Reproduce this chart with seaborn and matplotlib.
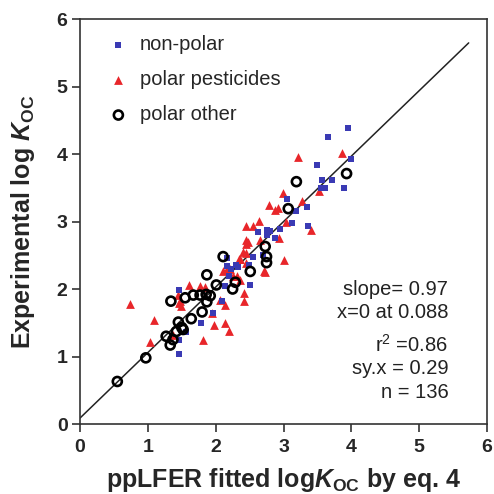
import matplotlib
matplotlib.use("Agg")
import matplotlib.pyplot as plt
import seaborn as sns
import numpy as np
import pandas as pd

# ---------------- data ----------------
nonpolar_x = [3.95, 3.65, 3.50, 3.99, 3.57, 3.72, 3.61, 3.56, 3.89, 3.05, 3.34, 3.19, 3.12, 3.36,
              2.95, 2.80, 2.75, 2.63, 2.88, 2.70, 2.55, 2.49, 2.51, 2.33, 2.30, 2.17, 2.16, 2.23,
              2.14, 2.10, 2.20, 1.79, 1.57, 1.46, 1.46, 1.46, 1.96, 2.75]
nonpolar_y = [4.38, 4.25, 3.83, 3.92, 3.62, 3.62, 3.50, 3.50, 3.49, 3.34, 3.21, 3.15, 2.98, 2.93,
              2.89, 2.86, 2.80, 2.84, 2.75, 2.50, 2.48, 2.36, 2.06, 2.33, 2.36, 2.34, 2.46, 2.30,
              2.05, 1.82, 2.19, 1.49, 1.37, 1.99, 1.25, 1.04, 1.64, 2.87]

pest_x = [0.74, 1.09, 1.03, 1.37, 1.47, 1.49, 1.46, 1.61, 1.77, 1.85, 1.82, 1.95, 1.98, 2.06,
          2.14, 2.14, 2.20, 2.11, 2.17, 2.21, 2.26, 2.32, 2.36, 2.34, 2.40, 2.36, 2.45, 2.44,
          2.48, 2.44, 2.55, 2.64, 2.65, 2.42, 2.42, 2.71, 2.78, 2.87, 2.92, 2.94, 3.00, 2.99,
          3.04, 3.21, 3.28, 3.40, 3.52, 3.86, 2.45, 2.72, 2.45, 1.45]
pest_y = [1.78, 1.54, 1.21, 1.32, 1.82, 1.75, 1.79, 2.06, 2.05, 2.03, 1.25, 1.64, 1.47, 1.84,
          1.76, 1.49, 1.38, 2.26, 2.30, 2.29, 2.19, 2.20, 2.14, 2.44, 2.55, 2.44, 2.53, 2.73,
          2.69, 2.94, 2.94, 3.01, 2.72, 1.94, 1.82, 2.26, 3.25, 3.17, 3.20, 2.75, 2.43, 3.42,
          3.00, 3.96, 3.30, 2.88, 3.45, 4.01, 2.38, 2.25, 2.66, 1.91]

other_x = [0.55, 0.97, 1.27, 1.33, 1.37, 1.34, 1.42, 1.45, 1.50, 1.52, 1.55, 1.64, 1.67, 1.77,
           1.80, 1.86, 1.87, 1.87, 1.92, 2.01, 2.11, 2.25, 2.29, 2.51, 2.73, 2.75, 2.75, 3.07,
           3.19, 3.93]
other_y = [0.63, 0.98, 1.30, 1.17, 1.25, 1.82, 1.37, 1.51, 1.43, 1.40, 1.87, 1.56, 1.91, 1.91,
           1.66, 1.92, 1.81, 2.21, 1.90, 2.06, 2.48, 2.00, 2.10, 2.26, 2.63, 2.48, 2.39, 3.19,
           3.59, 3.71]

fit_slope = 0.97
fit_intercept = 0.088
fit_x = [0.0, 5.73]

labels = ["non-polar", "polar pesticides", "polar other"]
stats_lines = ["slope= 0.97", "x=0 at 0.088", "$\\mathregular{r^2}$ =0.86", "sy.x = 0.29", "n = 136"]
ticks = [0, 1, 2, 3, 4, 5, 6]

# ---------------- style ----------------
sns.set_style("white")
plt.rcParams["font.family"] = ["Liberation Sans", "DejaVu Sans"]
plt.rcParams["mathtext.fontset"] = "custom"
plt.rcParams["mathtext.rm"] = "Liberation Sans:bold"
plt.rcParams["mathtext.it"] = "Liberation Sans:italic:bold"
plt.rcParams["mathtext.bf"] = "Liberation Sans:bold"

fig = plt.figure(figsize=(4.94, 4.94), dpi=100)
ax = fig.add_axes([80 / 494, 1 - 424 / 494, 407 / 494, 405 / 494])

df_np = pd.DataFrame({"x": nonpolar_x, "y": nonpolar_y})
df_pp = pd.DataFrame({"x": pest_x, "y": pest_y})
df_po = pd.DataFrame({"x": other_x, "y": other_y})

fy = [fit_intercept + fit_slope * v for v in fit_x]
sns.lineplot(x=fit_x, y=fy, ax=ax, color="#222222", lw=1.1, zorder=1)

sns.scatterplot(data=df_np, x="x", y="y", ax=ax, marker="s", color="#3a3ab4",
                s=22, linewidth=0, zorder=3, label=labels[0])
sns.scatterplot(data=df_pp, x="x", y="y", ax=ax, marker="^", color="#e8262a",
                s=40, linewidth=0, zorder=2, label=labels[1])
sns.scatterplot(data=df_po, x="x", y="y", ax=ax, marker="o", facecolor="none",
                edgecolor="black", s=42, linewidth=1.9, zorder=4, label=labels[2])

ax.set_xlim(0, 6)
ax.set_ylim(0, 6)
ax.set_xticks(ticks)
ax.set_yticks(ticks)
ax.set_xticklabels([str(t) for t in ticks], fontsize=14, fontweight="bold")
ax.set_yticklabels([str(t) for t in ticks], fontsize=14, fontweight="bold")
ax.tick_params(axis="x", which="major", direction="out", length=6, width=1.2,
               color="#333333", bottom=True, top=False, pad=5)
ax.tick_params(axis="y", which="major", direction="out", length=6, width=1.2,
               color="#333333", left=True, right=False, pad=3)

for sp in ax.spines.values():
    sp.set_visible(True)
    sp.set_color("#333333")
    sp.set_linewidth(1.2)

ax.set_xlabel("ppLFER fitted log$\\mathit{K}_{\\mathrm{OC}}$ by eq. 4",
              fontsize=18, fontweight="bold", labelpad=7)
ax.set_ylabel("Experimental log $\\mathit{K}_{\\mathrm{OC}}$",
              fontsize=18, fontweight="bold", labelpad=14)

ys = [2.00, 1.65, 1.18, 0.82, 0.46]
for t, yy in zip(stats_lines, ys):
    ax.text(5.43, yy, t, ha="right", va="center", fontsize=14.5, color="#222222")

leg = ax.legend(loc="upper left", bbox_to_anchor=(0.025, 1.005), frameon=False,
                fontsize=14.5, handletextpad=0.55, labelspacing=0.8, markerscale=1.0,
                handlelength=1.0)

fig.savefig("out.png", dpi=100)
